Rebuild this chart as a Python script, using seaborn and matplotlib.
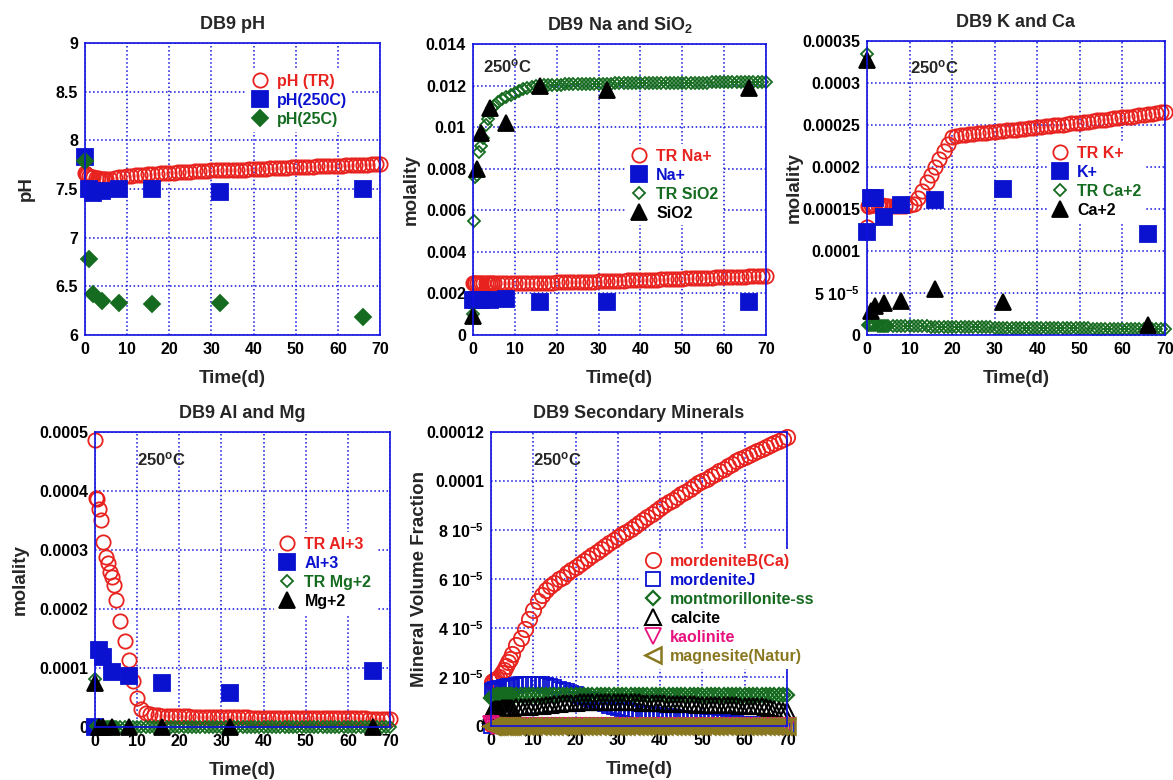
import numpy as np
import matplotlib
matplotlib.use("Agg")
import matplotlib.pyplot as plt
import seaborn as sns

# TIME GRIDS
# sample days of the lab measurements
t_obs = [0, 1, 2, 4, 8, 16, 32, 66]
# output days of the TOUGHREACT run
t_tr = [0, 0.25, 0.5, 1, 1.5, 2, 2.5, 3, 3.5, 4, 4.5, 5,
        6, 7, 8, 9, 10, 11, 12, 13, 14, 15, 16, 17, 18, 19, 20,
        21, 22, 23, 24, 25, 26, 27, 28, 29, 30,
        31, 32, 33, 34, 35, 36, 37, 38, 39, 40,
        41, 42, 43, 44, 45, 46, 47, 48, 49, 50,
        51, 52, 53, 54, 55, 56, 57, 58, 59, 60,
        61, 62, 63, 64, 65, 66, 67, 68, 69, 70]

# PANEL 1 - pH
ph_tr = [7.66, 7.65, 7.64, 7.63, 7.62, 7.62, 7.61, 7.61, 7.60, 7.60, 7.60, 7.60,
         7.60, 7.61, 7.62, 7.62, 7.63, 7.63, 7.64, 7.64, 7.64, 7.65, 7.65, 7.65, 7.66, 7.66, 7.66,
         7.66, 7.67, 7.67, 7.67, 7.67, 7.68, 7.68, 7.68, 7.68, 7.69,
         7.69, 7.69, 7.69, 7.70, 7.70, 7.70, 7.70, 7.70, 7.71, 7.71,
         7.71, 7.71, 7.71, 7.72, 7.72, 7.72, 7.72, 7.72, 7.73, 7.73,
         7.73, 7.73, 7.73, 7.73, 7.74, 7.74, 7.74, 7.74, 7.74, 7.74,
         7.74, 7.75, 7.75, 7.75, 7.75, 7.75, 7.75, 7.76, 7.76, 7.76]
ph_250 = [7.83, 7.50, 7.46, 7.48, 7.50, 7.50, 7.47, 7.50]
ph_25 = [7.79, 6.78, 6.42, 6.35, 6.33, 6.32, 6.33, 6.19]

# PANEL 2 - Na and SiO2 (units of 1e-3 molal)
na_tr = [2.50, 2.49, 2.49, 2.48, 2.48, 2.48, 2.48, 2.48, 2.48, 2.48, 2.48, 2.48,
         2.48, 2.48, 2.48, 2.48, 2.49, 2.49, 2.49, 2.50, 2.50, 2.50, 2.51, 2.51, 2.52, 2.52, 2.53,
         2.53, 2.54, 2.54, 2.55, 2.55, 2.56, 2.56, 2.57, 2.57, 2.58,
         2.59, 2.59, 2.60, 2.61, 2.61, 2.62, 2.63, 2.63, 2.64, 2.65,
         2.65, 2.66, 2.67, 2.67, 2.68, 2.69, 2.69, 2.70, 2.71, 2.71,
         2.72, 2.73, 2.73, 2.74, 2.75, 2.75, 2.76, 2.77, 2.77, 2.78,
         2.79, 2.79, 2.80, 2.81, 2.81, 2.82, 2.83, 2.83, 2.84, 2.85]
na_obs = [1.70, 1.70, 1.68, 1.70, 1.73, 1.57, 1.57, 1.60]
sio2_tr = [1.0, 5.5, 7.6, 7.7, 8.8, 9.1, 9.5, 10.1, 10.4, 10.7, 10.9, 11.0,
           11.2, 11.35, 11.45, 11.55, 11.65, 11.75, 11.85, 11.9, 11.95, 12.0, 12.0, 12.02, 12.04, 12.05, 12.05,
           12.05, 12.06, 12.06, 12.06, 12.07, 12.07, 12.07, 12.08, 12.08, 12.08,
           12.09, 12.09, 12.09, 12.10, 12.10, 12.10, 12.10, 12.11, 12.11, 12.11,
           12.11, 12.12, 12.12, 12.12, 12.12, 12.13, 12.13, 12.13, 12.13, 12.13,
           12.14, 12.14, 12.14, 12.14, 12.14, 12.14, 12.15, 12.15, 12.15, 12.15,
           12.15, 12.15, 12.16, 12.16, 12.16, 12.16, 12.16, 12.17, 12.17, 12.17]
sio2_obs = [0.91, 8.0, 9.7, 10.9, 10.2, 12.0, 11.8, 11.9]

# PANEL 3 - K and Ca (units of 1e-5 molal)
k_tr = [12.9, 15.3, 15.4, 15.5, 15.5, 15.5, 15.5, 15.5, 15.5, 15.4, 15.4, 15.4,
        15.4, 15.4, 15.4, 15.4, 15.5, 15.6, 16.3, 17.2, 18.2, 19.1, 20.0, 21.0, 21.9, 22.8, 23.6,
        23.7, 23.8, 23.85, 23.9, 23.95, 24.0, 24.05, 24.1, 24.15, 24.2,
        24.25, 24.3, 24.35, 24.4, 24.45, 24.5, 24.55, 24.6, 24.7, 24.75,
        24.8, 24.85, 24.9, 24.95, 25.0, 25.05, 25.1, 25.2, 25.25, 25.3,
        25.35, 25.4, 25.5, 25.55, 25.6, 25.65, 25.7, 25.8, 25.85, 25.9,
        25.95, 26.0, 26.1, 26.15, 26.2, 26.3, 26.35, 26.4, 26.5, 26.6]
k_obs = [12.3, 16.3, 16.3, 14.0, 15.5, 16.1, 17.4, 12.0]
ca_tr = [33.5, 1.15, 1.15, 1.15, 1.14, 1.14, 1.13, 1.13, 1.12, 1.12, 1.11, 1.11,
         1.10, 1.09, 1.08, 1.07, 1.06, 1.05, 1.04, 1.03, 1.02, 1.01, 1.00, 0.99, 0.98, 0.97, 0.96,
         0.95, 0.95, 0.94, 0.93, 0.93, 0.92, 0.91, 0.91, 0.90, 0.89,
         0.89, 0.88, 0.88, 0.87, 0.86, 0.86, 0.85, 0.85, 0.84, 0.84,
         0.83, 0.83, 0.82, 0.82, 0.81, 0.81, 0.80, 0.80, 0.79, 0.79,
         0.78, 0.78, 0.77, 0.77, 0.76, 0.76, 0.75, 0.75, 0.74, 0.74,
         0.73, 0.73, 0.72, 0.72, 0.71, 0.71, 0.70, 0.70, 0.69, 0.69]
ca_obs = [32.7, 2.8, 3.5, 3.8, 4.0, 5.5, 3.9, 1.2]

# PANEL 4 - Al and Mg (units of 1e-4 molal)
al_tr = [4.86, 3.88, 3.87, 3.70, 3.51, 3.13, 2.88, 2.78, 2.62, 2.54, 2.40, 2.16,
         1.80, 1.46, 1.14, 0.78, 0.50, 0.30, 0.24, 0.22, 0.21, 0.20, 0.195, 0.19, 0.185, 0.18, 0.18,
         0.18, 0.18, 0.175, 0.175, 0.175, 0.17, 0.17, 0.17, 0.17, 0.17,
         0.17, 0.165, 0.165, 0.165, 0.165, 0.165, 0.16, 0.16, 0.16, 0.16,
         0.16, 0.16, 0.16, 0.155, 0.155, 0.155, 0.155, 0.155, 0.155, 0.15,
         0.15, 0.15, 0.15, 0.15, 0.15, 0.15, 0.15, 0.145, 0.145, 0.145,
         0.145, 0.145, 0.145, 0.145, 0.14, 0.14, 0.14, 0.14, 0.14, 0.14]
al_obs = [0.0, 1.30, 1.19, 0.93, 0.86, 0.74, 0.58, 0.95]
mg_tr = [0.82, 0.010, 0.009, 0.008, 0.007, 0.006, 0.006, 0.005, 0.005, 0.005, 0.004, 0.004,
         0.004, 0.004, 0.003, 0.003, 0.003, 0.003, 0.003, 0.003, 0.003, 0.003, 0.003, 0.003, 0.003, 0.003, 0.003,
         0.003, 0.003, 0.003, 0.003, 0.003, 0.003, 0.003, 0.003, 0.003, 0.003,
         0.003, 0.003, 0.003, 0.003, 0.003, 0.003, 0.003, 0.003, 0.003, 0.003,
         0.003, 0.003, 0.003, 0.003, 0.003, 0.003, 0.003, 0.003, 0.003, 0.003,
         0.003, 0.003, 0.003, 0.003, 0.003, 0.003, 0.003, 0.003, 0.003, 0.003,
         0.003, 0.003, 0.003, 0.003, 0.003, 0.003, 0.003, 0.003, 0.003, 0.003]
mg_obs = [0.75, 0.002, 0.002, 0.001, 0.001, 0.001, 0.001, 0.001]

# PANEL 5 - secondary minerals (units of 1e-5 volume fraction)
mordB = [0.10, 1.80, 1.82, 1.86, 1.90, 2.00, 2.15, 2.30, 2.45, 2.60, 2.75, 2.95,
         3.30, 3.60, 3.95, 4.35, 4.75, 5.10, 5.35, 5.55, 5.70, 5.85, 6.00, 6.10, 6.25, 6.38, 6.50,
         6.62, 6.74, 6.86, 6.98, 7.10, 7.22, 7.34, 7.46, 7.58, 7.70,
         7.82, 7.94, 8.06, 8.18, 8.30, 8.42, 8.54, 8.66, 8.78, 8.90,
         9.02, 9.13, 9.24, 9.35, 9.46, 9.57, 9.68, 9.79, 9.90, 10.00,
         10.10, 10.20, 10.30, 10.40, 10.50, 10.60, 10.70, 10.80, 10.90, 11.00,
         11.08, 11.16, 11.24, 11.32, 11.40, 11.48, 11.56, 11.64, 11.72, 11.80]
mordJ = [0.00, 1.45, 1.48, 1.50, 1.52, 1.54, 1.56, 1.58, 1.60, 1.62, 1.63, 1.65,
         1.68, 1.70, 1.72, 1.73, 1.73, 1.72, 1.70, 1.67, 1.63, 1.58, 1.53, 1.48, 1.42, 1.36, 1.30,
         1.24, 1.18, 1.12, 1.06, 1.00, 0.94, 0.88, 0.83, 0.78, 0.73,
         0.69, 0.65, 0.61, 0.58, 0.55, 0.52, 0.50, 0.48, 0.46, 0.44,
         0.42, 0.40, 0.38, 0.36, 0.34, 0.32, 0.30, 0.28, 0.26, 0.24,
         0.22, 0.20, 0.19, 0.17, 0.16, 0.14, 0.13, 0.11, 0.10, 0.09,
         0.08, 0.07, 0.06, 0.05, 0.05, 0.04, 0.04, 0.03, 0.03, 0.02]
montm = [1.15, 1.20, 1.22, 1.24, 1.25, 1.25, 1.25, 1.26, 1.26, 1.26, 1.26, 1.26,
         1.26, 1.26, 1.26, 1.26, 1.26, 1.26, 1.26, 1.26, 1.26, 1.26, 1.26, 1.26, 1.26, 1.26, 1.26,
         1.26, 1.26, 1.26, 1.26, 1.26, 1.26, 1.26, 1.26, 1.26, 1.26,
         1.26, 1.26, 1.26, 1.26, 1.26, 1.26, 1.26, 1.26, 1.26, 1.26,
         1.26, 1.26, 1.26, 1.26, 1.26, 1.26, 1.26, 1.26, 1.26, 1.26,
         1.26, 1.26, 1.26, 1.26, 1.26, 1.26, 1.26, 1.26, 1.26, 1.26,
         1.26, 1.26, 1.26, 1.26, 1.26, 1.26, 1.26, 1.26, 1.26, 1.26]
calcite = [0.45, 0.60, 0.65, 0.68, 0.70, 0.71, 0.72, 0.73, 0.74, 0.74, 0.75, 0.75,
           0.76, 0.77, 0.78, 0.79, 0.80, 0.81, 0.82, 0.84, 0.86, 0.88, 0.90, 0.92, 0.94, 0.95, 0.96,
           0.97, 0.98, 0.98, 0.99, 0.99, 1.00, 1.00, 1.00, 1.00, 1.00,
           0.99, 0.99, 0.98, 0.98, 0.97, 0.96, 0.95, 0.94, 0.93, 0.92,
           0.92, 0.91, 0.90, 0.90, 0.89, 0.89, 0.88, 0.88, 0.87, 0.87,
           0.86, 0.86, 0.85, 0.85, 0.85, 0.84, 0.84, 0.84, 0.83, 0.83,
           0.83, 0.82, 0.82, 0.81, 0.78, 0.74, 0.70, 0.66, 0.62, 0.60]
kaolinite = [0.10, 0.02, 0.02, 0.01, 0.01, 0.01, 0.01, 0.01, 0.01, 0.01, 0.01, 0.01,
             0.01, 0.01, 0.01, 0.01, 0.01, 0.01, 0.01, 0.01, 0.01, 0.01, 0.01, 0.01, 0.01, 0.01, 0.01,
             0.01, 0.01, 0.01, 0.01, 0.01, 0.01, 0.01, 0.01, 0.01, 0.01,
             0.01, 0.01, 0.01, 0.01, 0.01, 0.01, 0.01, 0.01, 0.01, 0.01,
             0.01, 0.01, 0.01, 0.01, 0.01, 0.01, 0.01, 0.01, 0.01, 0.01,
             0.01, 0.01, 0.01, 0.01, 0.01, 0.01, 0.01, 0.01, 0.01, 0.01,
             0.01, 0.01, 0.01, 0.01, 0.01, 0.01, 0.01, 0.01, 0.01, 0.01]
magnesite = [0.00, 0.00, 0.00, 0.00, 0.00, 0.00, 0.00, 0.00, 0.00, 0.00, 0.00, 0.00,
             0.00, 0.00, 0.00, 0.00, 0.00, 0.00, 0.00, 0.00, 0.00, 0.00, 0.00, 0.00, 0.00, 0.00, 0.00,
             0.00, 0.00, 0.00, 0.00, 0.00, 0.00, 0.00, 0.00, 0.00, 0.00,
             0.00, 0.00, 0.00, 0.00, 0.00, 0.00, 0.00, 0.00, 0.00, 0.00,
             0.00, 0.00, 0.00, 0.00, 0.00, 0.00, 0.00, 0.00, 0.00, 0.00,
             0.00, 0.00, 0.00, 0.00, 0.00, 0.00, 0.00, 0.00, 0.00, 0.00,
             0.00, 0.00, 0.00, 0.00, 0.00, 0.00, 0.00, 0.00, 0.00, 0.00]

# TICK LABELS
ph_ticks = ['6', '6.5', '7', '7.5', '8', '8.5', '9']
na_ticks = ['0', '0.002', '0.004', '0.006', '0.008', '0.01', '0.012', '0.014']
k_ticks = ['0', '5 10$^{-5}$', '0.0001', '0.00015', '0.0002', '0.00025', '0.0003', '0.00035']
al_ticks = ['0', '0.0001', '0.0002', '0.0003', '0.0004', '0.0005']
min_ticks = ['0', '2 10$^{-5}$', '4 10$^{-5}$', '6 10$^{-5}$', '8 10$^{-5}$', '0.0001', '0.00012']

# COLORS
RED = '#e8221e'
BLUE = '#0a12d0'
GREEN = '#156b1f'
BLACK = '#000000'
PINK = '#e8127f'
OLIVE = '#8a7820'
GRID = '#1010e0'

sns.set_theme(style='white')
plt.rcParams['font.family'] = ['Liberation Sans', 'DejaVu Sans']
plt.rcParams['font.weight'] = 'bold'
plt.rcParams['mathtext.fontset'] = 'custom'
plt.rcParams['mathtext.rm'] = 'Liberation Sans:bold'
plt.rcParams['mathtext.it'] = 'Liberation Sans:bold'
plt.rcParams['mathtext.bf'] = 'Liberation Sans:bold'
plt.rcParams['mathtext.default'] = 'rm'


def draw(ax, t, y, scale, label, marker, ms, color, filled, mew=1.3):
    sns.lineplot(x=t, y=np.array(y) * scale, ax=ax, estimator=None, sort=False,
                 linestyle='none', marker=marker, ms=ms,
                 mfc=color if filled else 'none', mec=color, mew=mew,
                 color=color, clip_on=False, label=label, legend=False)


def style(ax, title, ylabel, yticks, ylabels, ylab_x):
    ax.set_xlim(0, 70)
    ax.set_xticks(range(0, 71, 10))
    ax.set_ylim(yticks[0], yticks[-1])
    ax.set_yticks(yticks)
    ax.set_yticklabels(ylabels)
    ax.grid(True, color=GRID, linestyle=':', linewidth=1.1)
    ax.set_axisbelow(True)
    for s in ax.spines.values():
        s.set_color(GRID)
        s.set_linewidth(1.2)
    ax.tick_params(length=0, labelsize=11.5, pad=5, colors='black')
    ax.set_title(title, fontsize=13, fontweight='bold', pad=10)
    ax.set_xlabel('Time(d)', fontsize=13.5, fontweight='bold')
    ax.set_ylabel(ylabel, fontsize=13.5, fontweight='bold')
    ax.xaxis.set_label_coords(0.5, -0.12)
    ax.yaxis.set_label_coords(ylab_x, 0.5)


def legend(ax, x, y, colors):
    leg = ax.legend(loc='upper left', bbox_to_anchor=(x, y), borderaxespad=0,
                    frameon=True, fancybox=False, edgecolor='none', facecolor='white',
                    framealpha=1, borderpad=0.3, handlelength=1.0, handletextpad=0.6,
                    labelspacing=0.25, fontsize=11.5)
    for txt, c in zip(leg.get_texts(), colors):
        txt.set_color(c)
    leg.set_zorder(10)


def temp(ax, x, y):
    ax.text(x, y, '250$^{o}$C', transform=ax.transAxes, fontsize=12,
            fontweight='bold', va='center', ha='left', zorder=11)


fig = plt.figure(figsize=(11.73, 7.8), dpi=100)

# DB9 pH
ax1 = fig.add_axes([0.0725, 0.5705, 0.2515, 0.3744])
draw(ax1, t_tr, ph_tr, 1, 'pH (TR)', 'o', 10.3, RED, False)
draw(ax1, t_obs, ph_250, 1, 'pH(250C)', 's', 12, BLUE, True)
draw(ax1, t_obs, ph_25, 1, 'pH(25C)', 'D', 7.7, GREEN, True)
style(ax1, 'DB9 pH', 'pH', [6, 6.5, 7, 7.5, 8, 8.5, 9], ph_ticks, -0.17)
legend(ax1, 0.549, 0.91, [RED, BLUE, GREEN])

# DB9 Na and SiO2
ax2 = fig.add_axes([0.4032, 0.5705, 0.2498, 0.3731])
draw(ax2, t_tr, na_tr, 1e-3, 'TR Na+', 'o', 10.3, RED, False)
draw(ax2, t_obs, na_obs, 1e-3, 'Na+', 's', 12, BLUE, True)
draw(ax2, t_tr, sio2_tr, 1e-3, 'TR SiO2', 'D', 6.5, GREEN, False)
draw(ax2, t_obs, sio2_obs, 1e-3, 'SiO2', '^', 11.5, BLACK, True)
style(ax2, 'DB9 Na and SiO$_2$', 'molality',
      [0, 0.002, 0.004, 0.006, 0.008, 0.01, 0.012, 0.014], na_ticks, -0.18)
legend(ax2, 0.522, 0.657, [RED, BLUE, GREEN, BLACK])
temp(ax2, 0.034, 0.924)

# DB9 K and Ca
ax3 = fig.add_axes([0.7391, 0.5705, 0.2540, 0.3769])
draw(ax3, t_tr, k_tr, 1e-5, 'TR K+', 'o', 10.3, RED, False)
draw(ax3, t_obs, k_obs, 1e-5, 'K+', 's', 12, BLUE, True)
draw(ax3, t_tr, ca_tr, 1e-5, 'TR Ca+2', 'D', 6.5, GREEN, False)
draw(ax3, t_obs, ca_obs, 1e-5, 'Ca+2', '^', 11.5, BLACK, True)
style(ax3, 'DB9 K and Ca', 'molality',
      [0, 5e-5, 1e-4, 1.5e-4, 2e-4, 2.5e-4, 3e-4, 3.5e-4], k_ticks, -0.215)
legend(ax3, 0.604, 0.660, [RED, BLUE, GREEN, BLACK])
temp(ax3, 0.144, 0.912)

# DB9 Al and Mg
ax4 = fig.add_axes([0.0810, 0.0679, 0.2515, 0.3782])
draw(ax4, t_tr, al_tr, 1e-4, 'TR Al+3', 'o', 10.3, RED, False)
draw(ax4, t_obs, al_obs, 1e-4, 'Al+3', 's', 11.5, BLUE, True)
draw(ax4, t_tr, mg_tr, 1e-4, 'TR Mg+2', 'D', 6.5, GREEN, False)
draw(ax4, t_obs, mg_obs, 1e-4, 'Mg+2', '^', 11, BLACK, True)
style(ax4, 'DB9 Al and Mg', 'molality',
      [0, 1e-4, 2e-4, 3e-4, 4e-4, 5e-4], al_ticks, -0.224)
legend(ax4, 0.607, 0.661, [RED, BLUE, GREEN, BLACK])
temp(ax4, 0.142, 0.908)

# DB9 Secondary Minerals
ax5 = fig.add_axes([0.4186, 0.0692, 0.2523, 0.3769])
draw(ax5, t_tr, mordB, 1e-5, 'mordeniteB(Ca)', 'o', 11, RED, False)
draw(ax5, t_tr, mordJ, 1e-5, 'mordeniteJ', 's', 10.5, BLUE, False)
draw(ax5, t_tr, montm, 1e-5, 'montmorillonite-ss', 'D', 7.5, GREEN, False, mew=1.6)
draw(ax5, t_tr, calcite, 1e-5, 'calcite', '^', 11, BLACK, False, mew=1.5)
draw(ax5, t_tr, kaolinite, 1e-5, 'kaolinite', 'v', 11, PINK, False)
draw(ax5, t_tr, magnesite, 1e-5, 'magnesite(Natur)', '<', 11, OLIVE, False, mew=1.8)
style(ax5, 'DB9 Secondary Minerals', 'Mineral Volume Fraction',
      [0, 2e-5, 4e-5, 6e-5, 8e-5, 1e-4, 1.2e-4], min_ticks, -0.213)
legend(ax5, 0.503, 0.602, [RED, BLUE, GREEN, BLACK, PINK, OLIVE])
temp(ax5, 0.142, 0.908)

plt.savefig('out.png', dpi=100)
